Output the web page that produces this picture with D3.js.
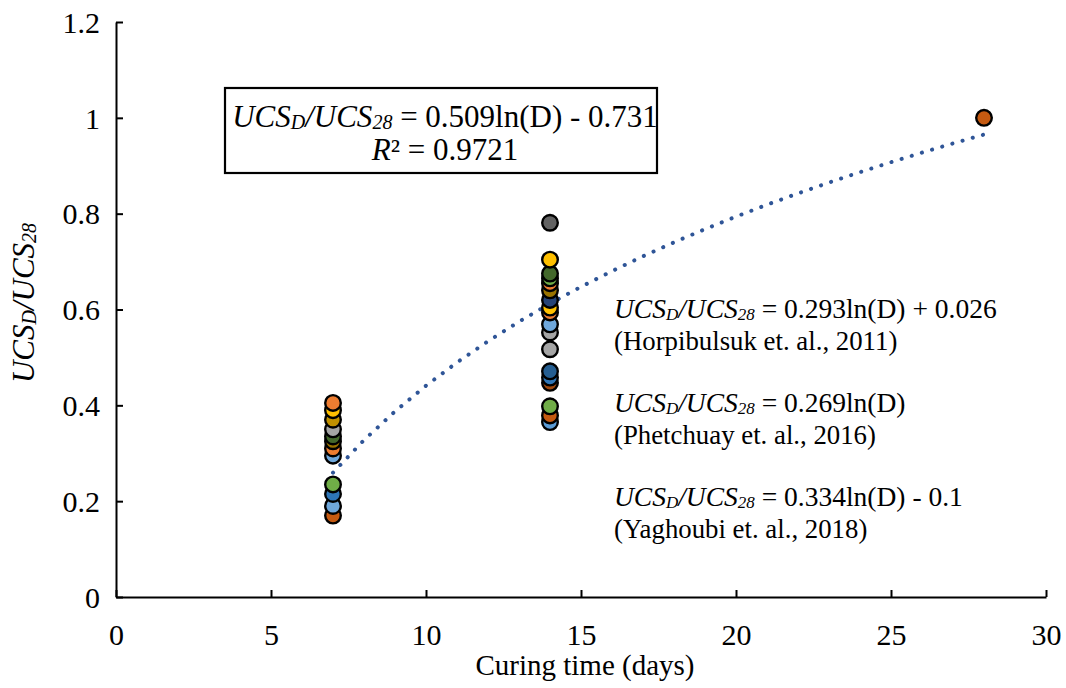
<html>
<head>
<style>
  body { margin: 0; background: #fff; }
  svg text { font-family: "Liberation Serif", "Times New Roman", serif; fill: #000; }
</style>
</head>
<body>
<svg id="chart"></svg>
<script src="https://cdn.jsdelivr.net/npm/d3@7"></script>
<script>
// ratio UCS_D/UCS_28 of each sample, with its marker colour
var days7 = [0.405, 0.39, 0.37, 0.35, 0.335, 0.325, 0.31, 0.295, 0.235, 0.215, 0.19, 0.17];
var colors7 = ["#ED7D31", "#FFC000", "#C09000", "#A5A5A5", "#43682B", "#997300", "#ED7D31", "#6FA8DC", "#70AD47", "#2E75B6", "#6FA8DC", "#C55A11"];
var days14 = [0.781, 0.704, 0.675, 0.665, 0.655, 0.64, 0.62, 0.604, 0.594, 0.569, 0.552, 0.517, 0.471, 0.458, 0.447, 0.398, 0.379, 0.365];
var colors14 = ["#636363", "#FFC000", "#43682B", "#70AD47", "#ED7D31", "#997300", "#264478", "#FFC000", "#ED7D31", "#6FA8DC", "#A5A5A5", "#A5A5A5", "#255E91", "#2E75B6", "#9E480E", "#70AD47", "#C55A11", "#5B9BD5"];
var days28 = [1.0];
var colors28 = ["#C55A11"];

var xTicks = [0, 5, 10, 15, 20, 25, 30];
var yTicks = [0, 0.2, 0.4, 0.6, 0.8, 1, 1.2];

// fitted trend: a ln(D) + b
var fitA = 0.509, fitB = -0.731;
var fitDays = [7, 8, 9, 10, 11, 12, 13, 14, 15, 16, 17, 18, 19, 20, 21, 22, 23, 24, 25, 26, 27, 28];

var others = [
  ["0.293ln(D) + 0.026", "(Horpibulsuk et. al., 2011)"],
  ["0.269ln(D)", "(Phetchuay et. al., 2016)"],
  ["0.334ln(D) - 0.1", "(Yaghoubi et. al., 2018)"]
];

var points = [];
days7.forEach(function(v, i) { points.push({d: 7, v: v, c: colors7[i]}); });
days14.forEach(function(v, i) { points.push({d: 14, v: v, c: colors14[i]}); });
days28.forEach(function(v, i) { points.push({d: 28, v: v, c: colors28[i]}); });

var W = 1066, H = 688;
var margin = {top: 22, left: 116};
var width = 1046 - margin.left, height = 597 - margin.top;

var svg = d3.select("svg#chart").attr("width", W).attr("height", H);
var g = svg.append("g").attr("transform", "translate(" + margin.left + "," + margin.top + ")");

var x = d3.scaleLinear().domain([0, 30]).range([0, width]);
var y = d3.scaleLinear().domain([0, 1.2]).range([height, 0]);

var xAxis = g.append("g")
    .attr("transform", "translate(0," + height + ")")
    .call(d3.axisBottom(x).tickValues(xTicks).tickSize(-7).tickSizeOuter(0).tickPadding(20));
var yAxis = g.append("g")
    .call(d3.axisLeft(y).tickValues(yTicks).tickSize(-7).tickSizeOuter(0).tickPadding(16)
      .tickFormat(function(d) { return String(+d.toFixed(1)); }));
[xAxis, yAxis].forEach(function(a) {
  a.attr("font-family", null).attr("font-size", null);
  a.selectAll("path, line").attr("stroke", "#000").attr("stroke-width", 2);
  a.selectAll("text")
    .attr("font-family", "Liberation Serif")
    .attr("font-size", 30)
    .attr("fill", "#000");
});
xAxis.selectAll("text").attr("dy", null).attr("y", 48);
yAxis.selectAll("text").attr("dy", "0.34em");

// axis titles
svg.append("text")
    .attr("x", margin.left + width / 2 + 4).attr("y", 675)
    .attr("text-anchor", "middle").attr("font-size", 29)
    .text("Curing time (days)");

var yt = svg.append("text")
    .attr("transform", "translate(34,303) rotate(-90)")
    .attr("text-anchor", "middle").attr("font-size", 31).attr("font-style", "italic");
yt.append("tspan").text("UCS");
yt.append("tspan").text("D").attr("font-size", 20).attr("dy", 2);
yt.append("tspan").text("/UCS").attr("dy", -2);
yt.append("tspan").text("28").attr("font-size", 20).attr("dy", 2);

// trend line
var line = d3.line().x(function(d) { return x(d); }).y(function(d) { return y(fitA * Math.log(d) + fitB); });
g.append("path")
    .datum(fitDays)
    .attr("d", line)
    .attr("fill", "none")
    .attr("stroke", "#2F5597")
    .attr("stroke-width", 4)
    .attr("stroke-linecap", "round")
    .attr("stroke-dasharray", "0.1 10.5");

// points (drawn bottom to top so that upper ones sit on top)
g.append("g").selectAll("circle")
    .data(points.slice().reverse())
    .enter().append("circle")
    .attr("cx", function(d) { return x(d.d); })
    .attr("cy", function(d) { return y(d.v); })
    .attr("r", 7.8)
    .attr("fill", function(d) { return d.c; })
    .attr("stroke", "#000")
    .attr("stroke-width", 2.4);

// equation with italic UCS_D/UCS_28 prefix
function eqn(sel, rest, sub) {
  sel.append("tspan").text("UCS").attr("font-style", "italic");
  sel.append("tspan").text("D").attr("font-style", "italic").attr("font-size", sub).attr("dy", 2);
  sel.append("tspan").text("/UCS").attr("font-style", "italic").attr("dy", -2);
  sel.append("tspan").text("28").attr("font-style", "italic").attr("font-size", sub).attr("dy", 2);
  sel.append("tspan").text(" = " + rest).attr("dy", -2);
}

// fitted equation box
svg.append("rect")
    .attr("x", 225).attr("y", 88).attr("width", 432).attr("height", 85)
    .attr("fill", "#fff").attr("stroke", "#000").attr("stroke-width", 2.2);
var t1 = svg.append("text").attr("x", 445).attr("y", 127).attr("text-anchor", "middle").attr("font-size", 31);
eqn(t1, fitA + "ln(D) - " + (-fitB), 20);
var t2 = svg.append("text").attr("x", 445).attr("y", 160).attr("text-anchor", "middle").attr("font-size", 31);
t2.append("tspan").text("R").attr("font-style", "italic");
t2.append("tspan").text("² = 0.9721");

// literature equations
others.forEach(function(o, i) {
  var by = 318 + i * 94;
  var a = svg.append("text").attr("x", 614).attr("y", by).attr("font-size", 27.5);
  eqn(a, o[0], 17);
  svg.append("text").attr("x", 614).attr("y", by + 32).attr("font-size", 26.8).text(o[1]);
});
</script>
</body>
</html>
